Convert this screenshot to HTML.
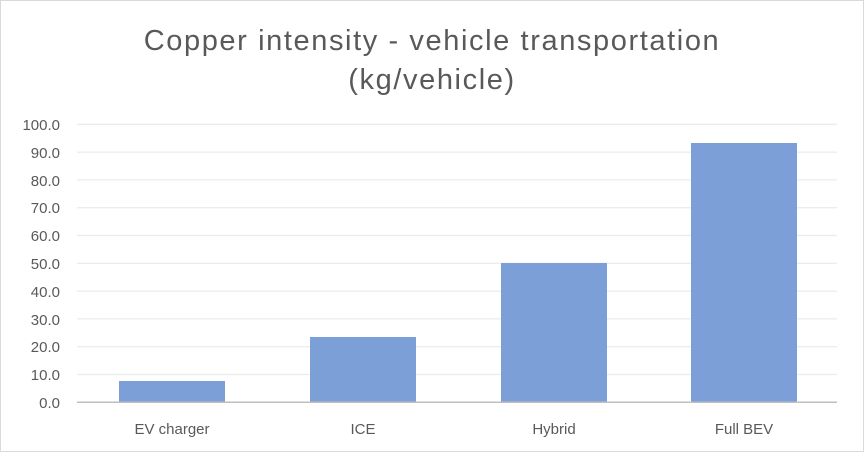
<!DOCTYPE html>
<html><head><style>
body{margin:0;background:#fff}
svg{display:block}
text{font-family:"Liberation Sans",sans-serif;fill:#595959}
</style></head><body>
<svg width="864" height="452" viewBox="0 0 864 452">
<rect x="0.5" y="0.5" width="863" height="451" fill="#fff" stroke="#d9d9d9"/>
<text x="432" y="50" font-size="29" letter-spacing="1.6" text-anchor="middle">Copper intensity - vehicle transportation</text>
<text x="432" y="89" font-size="29" letter-spacing="1.6" text-anchor="middle">(kg/vehicle)</text>
<g stroke="#ececec" stroke-width="1.3">
<line x1="77" x2="837" y1="124.3" y2="124.3"/>
<line x1="77" x2="837" y1="152.1" y2="152.1"/>
<line x1="77" x2="837" y1="179.9" y2="179.9"/>
<line x1="77" x2="837" y1="207.7" y2="207.7"/>
<line x1="77" x2="837" y1="235.5" y2="235.5"/>
<line x1="77" x2="837" y1="263.3" y2="263.3"/>
<line x1="77" x2="837" y1="291.1" y2="291.1"/>
<line x1="77" x2="837" y1="318.9" y2="318.9"/>
<line x1="77" x2="837" y1="346.7" y2="346.7"/>
<line x1="77" x2="837" y1="374.5" y2="374.5"/>
</g>
<g fill="#7c9fd7">
<rect x="119" y="381" width="106" height="21"/>
<rect x="310" y="337" width="106" height="65"/>
<rect x="501" y="263" width="106" height="139"/>
<rect x="691" y="143" width="106" height="259"/>
</g>
<line x1="77" x2="837" y1="402.3" y2="402.3" stroke="#bfbfbf" stroke-width="1.5"/>
<g font-size="15" text-anchor="end">
<text x="60" y="130">100.0</text>
<text x="60" y="158">90.0</text>
<text x="60" y="186">80.0</text>
<text x="60" y="213">70.0</text>
<text x="60" y="241">60.0</text>
<text x="60" y="269">50.0</text>
<text x="60" y="297">40.0</text>
<text x="60" y="325">30.0</text>
<text x="60" y="352">20.0</text>
<text x="60" y="380">10.0</text>
<text x="60" y="408">0.0</text>
</g>
<g font-size="15" text-anchor="middle">
<text x="172" y="434">EV charger</text>
<text x="363" y="434">ICE</text>
<text x="554" y="434">Hybrid</text>
<text x="744" y="434">Full BEV</text>
</g>
</svg>
</body></html>
